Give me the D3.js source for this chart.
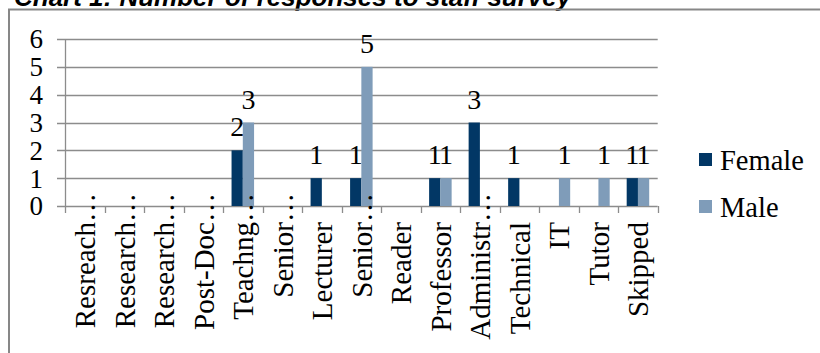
<!DOCTYPE html>
<html>
<head>
<meta charset="utf-8">
<script src="https://cdn.jsdelivr.net/npm/d3@7"></script>
<style>
  html, body { margin: 0; padding: 0; background: #fff; overflow: hidden; }
  svg { display: block; }
</style>
</head>
<body>
<svg id="chart" width="820" height="353"></svg>
<script>
// Staff survey responses by role and gender
const categories = ["Resreach", "Research", "Research", "Post-Doc", "Teachng", "Senior", "Lecturer",
                    "Senior", "Reader", "Professor", "Administr", "Technical", "IT", "Tutor", "Skipped"];
const truncated  = [true, true, true, true, true, true, false, true, false, false, true, false, false, false, false];
const female = [null, null, null, null, 2, null, 1, 1, null, 1, 3, 1, null, null, 1];
const male   = [null, null, null, null, 3, null, null, 5, null, 1, null, null, 1, 1, 1];
const seriesNames = ["Female", "Male"];
const seriesColors = ["#023765", "#7f9cb9"];
const yTicks = [0, 1, 2, 3, 4, 5, 6];
const title = "Chart 1: Number of responses to staff survey";

const svg = d3.select("#chart");
const serif = "'Liberation Serif', 'Times New Roman', serif";
const gridColor = "#8c8c8c";

const plot = { left: 65, right: 657.7, top: 39, bottom: 206 };

// Title (sits above the chart frame)
svg.append("text")
  .attr("x", 14).attr("y", 6)
  .attr("font-family", "'Liberation Sans', Arial, sans-serif")
  .attr("font-size", 26).attr("font-weight", "bold").attr("font-style", "italic")
  .attr("fill", "#000")
  .text(title);

// Chart frame
svg.append("rect")
  .attr("x", 9).attr("y", 9.5)
  .attr("width", 900).attr("height", 400)
  .attr("fill", "none").attr("stroke", "#878787").attr("stroke-width", 2);

const idx = categories.map((_, i) => i);
const x0 = d3.scaleBand().domain(idx).range([plot.left, plot.right]).paddingInner(0).paddingOuter(0);
const x1 = d3.scaleBand().domain(seriesNames).range([0, x0.bandwidth()]).paddingInner(0).paddingOuter(0.755);
const y = d3.scaleLinear().domain([0, 6]).range([plot.bottom, plot.top]);

// Horizontal gridlines
svg.append("g").selectAll("line").data(yTicks).join("line")
  .attr("x1", plot.left - 8).attr("x2", plot.right)
  .attr("y1", d => Math.round(y(d)) + 0.5).attr("y2", d => Math.round(y(d)) + 0.5)
  .attr("stroke", gridColor).attr("stroke-width", 1.3);

// Y axis line
svg.append("line")
  .attr("x1", plot.left + 0.5).attr("x2", plot.left + 0.5)
  .attr("y1", plot.top).attr("y2", plot.bottom + 7)
  .attr("stroke", gridColor).attr("stroke-width", 1.3);

// X axis category tick marks
const boundaries = idx.map(i => x0(i)).concat([plot.right]);
svg.append("g").selectAll("line").data(boundaries.slice(1)).join("line")
  .attr("x1", d => Math.round(d) + 0.5).attr("x2", d => Math.round(d) + 0.5)
  .attr("y1", plot.bottom).attr("y2", plot.bottom + 7)
  .attr("stroke", gridColor).attr("stroke-width", 1.3);

// Y tick labels
svg.append("g").selectAll("text").data(yTicks).join("text")
  .attr("x", 43).attr("y", d => y(d))
  .attr("dy", "0.35em")
  .attr("text-anchor", "end")
  .attr("font-family", serif).attr("font-size", 27)
  .text(d => d);

// Bars
const seriesData = [female, male];
seriesData.forEach((vals, s) => {
  const name = seriesNames[s];
  const bars = vals.map((v, i) => ({ i, v })).filter(d => d.v != null);
  svg.append("g").selectAll("rect").data(bars).join("rect")
    .attr("x", d => x0(d.i) + x1(name))
    .attr("y", d => y(d.v))
    .attr("width", x1.bandwidth())
    .attr("height", d => y(0) - y(d.v))
    .attr("fill", seriesColors[s]);
  // Value labels
  svg.append("g").selectAll("text").data(bars).join("text")
    .attr("x", d => x0(d.i) + x1(name) + x1.bandwidth() / 2)
    .attr("y", d => y(d.v) - 14)
    .attr("text-anchor", "middle")
    .attr("font-family", serif).attr("font-size", 28)
    .text(d => d.v);
});

// Category labels (rotated), with overflow ellipsis for shortened names
const catG = svg.append("g");
categories.forEach((c, i) => {
  const cx = x0(i) + x0.bandwidth() / 2 + 10.5;
  const g = catG.append("g").attr("transform", `translate(${cx},222) rotate(-90)`);
  g.append("text")
    .attr("text-anchor", "end")
    .attr("font-family", serif).attr("font-size", 29)
    .text(c);
  if (truncated[i]) {
    g.append("text")
      .attr("text-anchor", "start")
      .attr("font-family", serif).attr("font-size", 29)
      .text("\u2026");
  }
});

// Legend
const legend = svg.append("g");
seriesNames.forEach((n, s) => {
  const ly = 153 + s * 47;
  legend.append("rect")
    .attr("x", 699).attr("y", ly).attr("width", 13).attr("height", 13)
    .attr("fill", seriesColors[s]);
  legend.append("text")
    .attr("x", 720).attr("y", ly + 17)
    .attr("font-family", serif).attr("font-size", 28.5)
    .text(n);
});
</script>
</body>
</html>
